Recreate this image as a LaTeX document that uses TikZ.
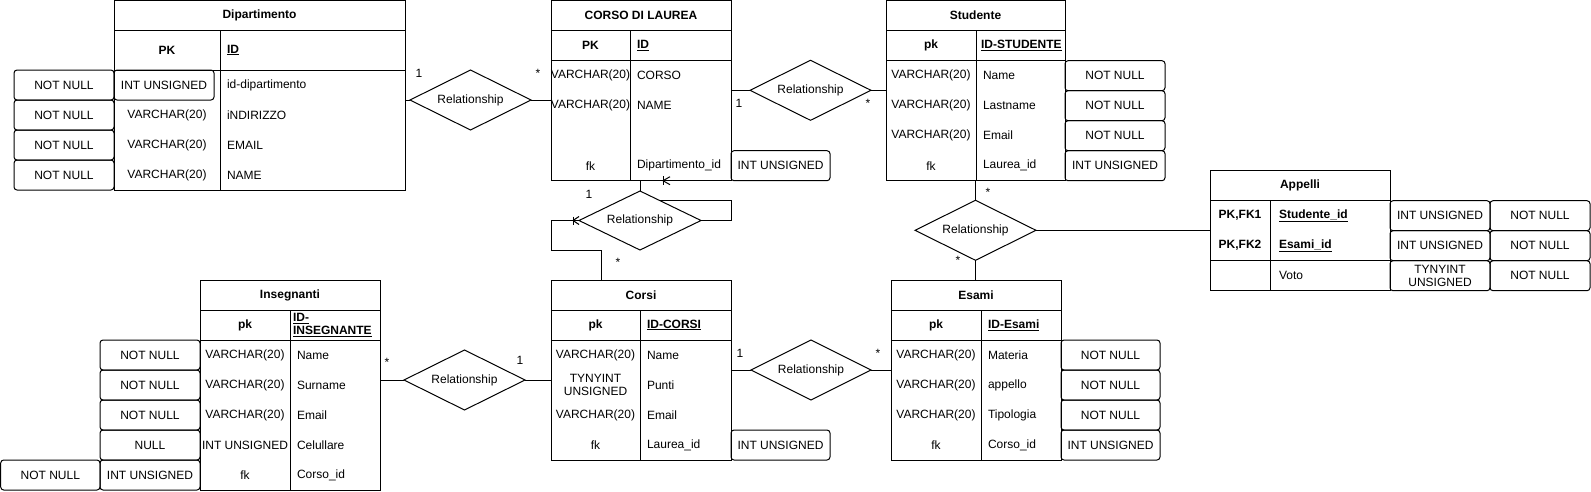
\documentclass[tikz,border=0pt]{standalone}
\usepackage{fontspec}
\setmainfont{Liberation Sans}
\usetikzlibrary{shapes.geometric,calc}
\tikzset{
  tx/.style={inner sep=0pt, outer sep=0pt},
  nm/.style={tx, anchor=west},
  bd/.style={tx, font=\fontsize{12}{14}\selectfont\bfseries},
  ent/.style={draw, line width=1pt, anchor=north west, inner sep=0pt, outer sep=0pt},
  abox/.style={draw, line width=1pt, rounded corners=3pt, anchor=north west, inner sep=0pt, outer sep=0pt,
    minimum width=100pt, minimum height=30pt, align=center},
  rel/.style={diamond, draw, line width=1pt, inner sep=0pt, outer sep=0pt, shape aspect=2,
    minimum width=121pt, minimum height=60pt},
  conn/.style={draw, line width=1pt},
  card/.style={tx},
}
\begin{document}
\begin{tikzpicture}[x=1pt,y=-1pt,line width=1pt,font=\fontsize{12}{14}\selectfont]
\useasboundingbox (0,0) rectangle (1591,491);

%% ---------------- Dipartimento ----------------
\node[ent, minimum width=291pt, minimum height=190pt] (dip) at (114,0.7) {};
\draw (114,30.7) -- (405,30.7);
\draw (114,70) -- (405,70);
\draw (220,30.7) -- (220,190.7);
\node[bd] (dipH) at (259.5,15.7) {Dipartimento};
\node[bd] (dipPK) at (167,50) {PK};
\node[bd, anchor=west] (dipID) at (227,50) {\underline{ID}};
\node[tx] (dipT2) at (167,115) {VARCHAR(20)};
\node[tx] (dipT3) at (167,145) {VARCHAR(20)};
\node[tx] (dipT4) at (167,175) {VARCHAR(20)};
\node[nm] (dipN1) at (227,85) {id-dipartimento};
\node[nm] (dipN2) at (227,115) {iNDIRIZZO};
\node[nm] (dipN3) at (227,145) {EMAIL};
\node[nm] (dipN4) at (227,175) {NAME};
\node[abox] (dipA1) at (14,70) {NOT NULL};
\node[abox] (dipA2) at (14,100) {NOT NULL};
\node[abox] (dipA3) at (14,130) {NOT NULL};
\node[abox] (dipA4) at (14,160) {NOT NULL};
\node[abox] (dipB1) at (114,70) {INT UNSIGNED};

%% ---------------- CORSO DI LAUREA ----------------
\node[ent, minimum width=180pt, minimum height=180pt] (cdl) at (551,0.7) {};
\draw (551,30.7) -- (731,30.7);
\draw (551,60.7) -- (731,60.7);
\draw (630,30.7) -- (630,180.7);
\node[bd] (cdlH) at (641,15.7) {CORSO DI LAUREA};
\node[bd] (cdlPK) at (590.5,45.7) {PK};
\node[bd, anchor=west] (cdlID) at (637,45.7) {\underline{ID}};
\node[tx] (cdlT1) at (590.5,75.7) {VARCHAR(20)};
\node[tx] (cdlT2) at (590.5,105.7) {VARCHAR(20)};
\node[tx] (cdlT4) at (590.5,165.7) {fk};
\node[nm] (cdlN1) at (637,75.7) {CORSO};
\node[nm] (cdlN2) at (637,105.7) {NAME};
\node[nm] (cdlN4) at (637,165.7) {Dipartimento\_id};
\node[abox, minimum width=99pt] (cdlB4) at (731,150.7) {INT UNSIGNED};

%% ---------------- Studente ----------------
\node[ent, minimum width=179pt, minimum height=180pt] (stu) at (886,0.7) {};
\draw (886,30.7) -- (1065,30.7);
\draw (886,60.7) -- (1065,60.7);
\draw (976,30.7) -- (976,180.7);
\node[bd] (stuH) at (975.5,15.7) {Studente};
\node[bd] (stuPK) at (931,45.7) {pk};
\node[bd, anchor=west] (stuID) at (981,45.7) {\underline{ID-STUDENTE}};
\node[tx] (stuT1) at (931,75.7) {VARCHAR(20)};
\node[tx] (stuT2) at (931,105.7) {VARCHAR(20)};
\node[tx] (stuT3) at (931,135.7) {VARCHAR(20)};
\node[tx] (stuT4) at (931,165.7) {fk};
\node[nm] (stuN1) at (983,75.7) {Name};
\node[nm] (stuN2) at (983,105.7) {Lastname};
\node[nm] (stuN3) at (983,135.7) {Email};
\node[nm] (stuN4) at (983,165.7) {Laurea\_id};
\node[abox] (stuA1) at (1065,60.7) {NOT NULL};
\node[abox] (stuA2) at (1065,90.7) {NOT NULL};
\node[abox] (stuA3) at (1065,120.7) {NOT NULL};
\node[abox] (stuA4) at (1065,150.7) {INT UNSIGNED};

%% ---------------- Appelli ----------------
\node[ent, minimum width=180pt, minimum height=120pt] (app) at (1210,170.7) {};
\draw (1210,200.7) -- (1390,200.7);
\draw (1210,260.7) -- (1390,260.7);
\draw (1270,200.7) -- (1270,290.7);
\node[bd] (appH) at (1300,185.7) {Appelli};
\node[bd] (appK1) at (1240,215.7) {PK,FK1};
\node[bd] (appK2) at (1240,245.7) {PK,FK2};
\node[bd, anchor=west] (appN1) at (1279,215.7) {\underline{Studente\_id}};
\node[bd, anchor=west] (appN2) at (1279,245.7) {\underline{Esami\_id}};
\node[nm] (appN3) at (1279,275.7) {Voto};
\node[abox] (appB1) at (1390,200.7) {INT UNSIGNED};
\node[abox] (appB2) at (1390,230.7) {INT UNSIGNED};
\node[abox, font=\fontsize{12}{12.5}\selectfont] (appB3) at (1390,260.7) {TYNYINT\\UNSIGNED};
\node[abox] (appA1) at (1490,200.7) {NOT NULL};
\node[abox] (appA2) at (1490,230.7) {NOT NULL};
\node[abox] (appA3) at (1490,260.7) {NOT NULL};

%% ---------------- Corsi ----------------
\node[ent, minimum width=180pt, minimum height=180pt] (cor) at (551,280) {};
\draw (551,310) -- (731,310);
\draw (551,340) -- (731,340);
\draw (640,310) -- (640,460);
\node[bd] (corH) at (641,295) {Corsi};
\node[bd] (corPK) at (595.5,325) {pk};
\node[bd, anchor=west] (corID) at (647,325) {\underline{ID-CORSI}};
\node[tx] (corT1) at (595.5,355) {VARCHAR(20)};
\node[tx, align=center, font=\fontsize{12}{12.5}\selectfont] (corT2) at (595.5,385) {TYNYINT\\UNSIGNED};
\node[tx] (corT3) at (595.5,415) {VARCHAR(20)};
\node[tx] (corT4) at (595.5,445) {fk};
\node[nm] (corN1) at (647,355) {Name};
\node[nm] (corN2) at (647,385) {Punti};
\node[nm] (corN3) at (647,415) {Email};
\node[nm] (corN4) at (647,445) {Laurea\_id};
\node[abox, minimum width=99pt] (corB4) at (731,430) {INT UNSIGNED};

%% ---------------- Esami ----------------
\node[ent, minimum width=170pt, minimum height=180pt] (esa) at (891,280) {};
\draw (891,310) -- (1061,310);
\draw (891,340) -- (1061,340);
\draw (981,310) -- (981,460);
\node[bd] (esaH) at (976,295) {Esami};
\node[bd] (esaPK) at (936,325) {pk};
\node[bd, anchor=west] (esaID) at (988,325) {\underline{ID-Esami}};
\node[tx] (esaT1) at (936,355) {VARCHAR(20)};
\node[tx] (esaT2) at (936,385) {VARCHAR(20)};
\node[tx] (esaT3) at (936,415) {VARCHAR(20)};
\node[tx] (esaT4) at (936,445) {fk};
\node[nm] (esaN1) at (988,355) {Materia};
\node[nm] (esaN2) at (988,385) {appello};
\node[nm] (esaN3) at (988,415) {Tipologia};
\node[nm] (esaN4) at (988,445) {Corso\_id};
\node[abox, minimum width=99pt] (esaA1) at (1061,340) {NOT NULL};
\node[abox, minimum width=99pt] (esaA2) at (1061,370) {NOT NULL};
\node[abox, minimum width=99pt] (esaA3) at (1061,400) {NOT NULL};
\node[abox, minimum width=99pt] (esaA4) at (1061,430) {INT UNSIGNED};

%% ---------------- Insegnanti ----------------
\node[ent, minimum width=180pt, minimum height=210pt] (ins) at (200,280) {};
\draw (200,310) -- (380,310);
\draw (200,340) -- (380,340);
\draw (290,310) -- (290,490);
\node[bd] (insH) at (290,295) {Insegnanti};
\node[bd] (insPK) at (245,325) {pk};
\node[bd, anchor=west, align=left, font=\fontsize{12}{12.5}\selectfont\bfseries] (insID) at (293,325) {\underline{ID-}\\\underline{INSEGNANTE}};
\node[tx] (insT1) at (245,355) {VARCHAR(20)};
\node[tx] (insT2) at (245,385) {VARCHAR(20)};
\node[tx] (insT3) at (245,415) {VARCHAR(20)};
\node[tx] (insT4) at (245,445) {INT UNSIGNED};
\node[tx] (insT5) at (245,475) {fk};
\node[nm] (insN1) at (297,355) {Name};
\node[nm] (insN2) at (297,385) {Surname};
\node[nm] (insN3) at (297,415) {Email};
\node[nm] (insN4) at (297,445) {Celullare};
\node[nm] (insN5) at (297,475) {Corso\_id};
\node[abox] (insA1) at (100,340) {NOT NULL};
\node[abox] (insA2) at (100,370) {NOT NULL};
\node[abox] (insA3) at (100,400) {NOT NULL};
\node[abox] (insA4) at (100,430) {NULL};
\node[abox] (insA5) at (100,460) {INT UNSIGNED};
\node[abox, minimum width=99.3pt] (insB5) at (0.7,460) {NOT NULL};

%% ---------------- Relationships ----------------
\node[rel] (d1) at (470.5,100) {Relationship};
\node[rel] (d2) at (810.5,90.3) {Relationship};
\node[rel] (d3) at (975.5,230.3) {Relationship};
\node[rel, minimum width=122pt, minimum height=59pt] (d4) at (640,220.5) {Relationship};
\node[rel, minimum width=120pt] (d5) at (811,370) {Relationship};
\node[rel] (d6) at (464.5,380) {Relationship};

%% ---------------- Connectors ----------------
\draw[conn] (dip.east |- d1.west) -- (d1.west);
\draw[conn] (d1.east) -- (d1.east -| cdl.west);
\draw[conn] (cdl.east |- d2.west) -- (d2.west);
\draw[conn] (d2.east) -- (d2.east -| stu.west);
\draw[conn] (d3.north |- stu.south) -- (d3.north);
\draw[conn] (d3.south) -- (d3.south |- esa.north);
\draw[conn] (d3.east) -- (d3.east -| app.west);
\draw[conn] (d4.north) -- (d4.north |- cdl.south);
\draw[conn] ($(cor.north west)+(50,0)$) -- ++(0,-30) -- ++(-50,0) |- (d4.west);
\draw[conn] ($(d4.west)+(0,-4)$) -- ($(d4.west)+(-6,0)$) -- ($(d4.west)+(0,4)$);
\draw[conn] ($(d4.west)+(-6,-4)$) -- ($(d4.west)+(-6,4)$);
\coordinate (d4e) at ($(d4.north)!0.33!(d4.east)$);
\draw[conn] (d4.east) -- ++(30,0) |- (d4e);
\coordinate (kk) at ($(cdl.south)+(22,0)$);
\draw[conn] ($(kk)+(0,-4.5)$) -- ($(kk)+(0,4.5)$);
\draw[conn] ($(kk)+(7,-4)$) -- (kk) -- ($(kk)+(7,4)$);
\draw[conn] (cor.east |- d5.west) -- (d5.west);
\draw[conn] (d5.east) -- (d5.east -| esa.west);
\draw[conn] (ins.east |- d6.west) -- (d6.west);
\draw[conn] (d6.east) -- (d6.east -| cor.west);

%% ---------------- Cardinalities ----------------
\node[card] (c1a) at (419,73) {1};
\node[card] (c1b) at (538,73) {*};
\node[card] (c2a) at (739,103) {1};
\node[card] (c2b) at (868,103) {*};
\node[card] (c3a) at (988,192) {*};
\node[card] (c3b) at (958,260) {*};
\node[card] (c4a) at (589,194) {1};
\node[card] (c4b) at (618,262) {*};
\node[card] (c5a) at (740,353) {1};
\node[card] (c5b) at (878,353) {*};
\node[card] (c6a) at (387,362) {*};
\node[card] (c6b) at (520,360) {1};
\end{tikzpicture}
\end{document}
